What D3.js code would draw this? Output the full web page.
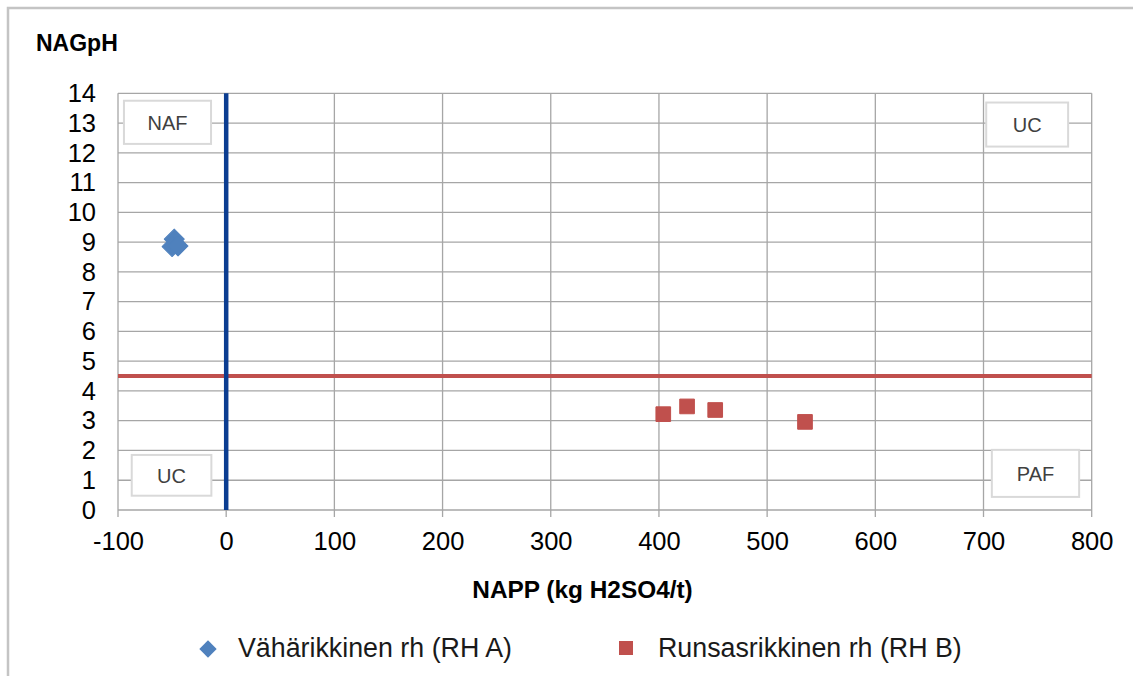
<!DOCTYPE html>
<html>
<head>
<meta charset="utf-8">
<script src="https://cdn.jsdelivr.net/npm/d3@7"></script>
<style>
  html, body { margin: 0; padding: 0; background: #fff; }
  svg { display: block; font-family: "Liberation Sans", Arial, sans-serif; }
</style>
</head>
<body>
<svg id="chart" width="1133" height="676"></svg>
<script>
// ---- data ----
const seriesNames = ["Vähärikkinen rh (RH A)", "Runsasrikkinen rh (RH B)"];
const rhA_x = [-48, -50, -44.5];
const rhA_y = [9.1, 8.85, 8.87];
const rhB_x = [404, 426, 452, 535];
const rhB_y = [3.22, 3.48, 3.36, 2.96];
const xTicks = [-100, 0, 100, 200, 300, 400, 500, 600, 700, 800];
const yTicks = [0, 1, 2, 3, 4, 5, 6, 7, 8, 9, 10, 11, 12, 13, 14];
const napThreshold = 0;     // vertical line at NAPP = 0
const phThreshold = 4.5;    // horizontal line at NAGpH = 4.5
const zoneLabels = ["NAF", "UC", "UC", "PAF"];
const zoneX0 = [-94.5, 702.5, -87.3, 707.7];
const zoneX1 = [-14, 778.2, -13.7, 788.4];
const zoneY0 = [12.3, 12.21, 0.48, 0.44];
const zoneY1 = [13.75, 13.69, 1.85, 2.02];

// ---- layout ----
const svg = d3.select("#chart");
const L = 118, R = 1091.7, T = 93.3, B = 510;
const x = d3.scaleLinear().domain([-100, 800]).range([L, R]);
const y = d3.scaleLinear().domain([0, 14]).range([B, T]);

const colA = "#4f81bd", colB = "#c0504d", blue = "#0b3d91", grid = "#a6a6a6";

// outer border
svg.append("rect").attr("x", 8).attr("y", 8).attr("width", 1140).attr("height", 700)
  .attr("fill", "none").attr("stroke", "#c4c4c4").attr("stroke-width", 2.5);

// gridlines
svg.append("g").selectAll("line").data(yTicks).join("line")
  .attr("x1", L).attr("x2", R).attr("y1", d => y(d)).attr("y2", d => y(d))
  .attr("stroke", grid).attr("stroke-width", 1.3);
svg.append("g").selectAll("line").data(xTicks).join("line")
  .attr("x1", d => x(d)).attr("x2", d => x(d)).attr("y1", T).attr("y2", B + 7)
  .attr("stroke", grid).attr("stroke-width", 1.3);

// axes labels (via d3 axes, domain hidden)
const xAxis = svg.append("g").attr("transform", `translate(0,${B})`)
  .call(d3.axisBottom(x).tickValues(xTicks).tickFormat(d => String(d)).tickSize(0).tickPadding(22));
xAxis.select(".domain").remove();
xAxis.selectAll("text").attr("font-size", 25.5).attr("fill", "#000")
  .attr("font-family", "Liberation Sans, Arial, sans-serif");

const yAxis = svg.append("g").attr("transform", `translate(${L},0)`)
  .call(d3.axisLeft(y).tickValues(yTicks).tickFormat(d => String(d)).tickSize(0).tickPadding(22));
yAxis.select(".domain").remove();
yAxis.selectAll("text").attr("font-size", 25.5).attr("fill", "#000")
  .attr("font-family", "Liberation Sans, Arial, sans-serif");

// zone label boxes
const zones = zoneLabels.map((t, i) => ({t, x0: zoneX0[i], x1: zoneX1[i], y0: zoneY0[i], y1: zoneY1[i]}));
const zg = svg.append("g").selectAll("g").data(zones).join("g");
zg.append("rect")
  .attr("x", d => x(d.x0)).attr("y", d => y(d.y1))
  .attr("width", d => x(d.x1) - x(d.x0)).attr("height", d => y(d.y0) - y(d.y1))
  .attr("fill", "#fff").attr("stroke", "#d9d9d9").attr("stroke-width", 2);
zg.append("text")
  .attr("x", d => (x(d.x0) + x(d.x1)) / 2).attr("y", d => (y(d.y0) + y(d.y1)) / 2)
  .attr("dy", "0.36em").attr("text-anchor", "middle")
  .attr("font-size", 20).attr("fill", "#404040").text(d => d.t);

// threshold lines
svg.append("line").attr("x1", L).attr("x2", R)
  .attr("y1", y(phThreshold)).attr("y2", y(phThreshold))
  .attr("stroke", colB).attr("stroke-width", 4);
svg.append("line").attr("x1", x(napThreshold)).attr("x2", x(napThreshold))
  .attr("y1", T).attr("y2", B)
  .attr("stroke", blue).attr("stroke-width", 4.5);

// points
const diamond = d3.symbol().type(d3.symbolSquare).size(200);
const square = d3.symbol().type(d3.symbolSquare).size(215);
svg.append("g").selectAll("path").data(rhA_x.map((v, i) => [v, rhA_y[i]])).join("path")
  .attr("d", diamond)
  .attr("transform", d => `translate(${x(d[0])},${y(d[1])}) rotate(45)`)
  .attr("fill", colA).attr("stroke", colA).attr("stroke-width", 1).attr("stroke-linejoin", "round");
svg.append("g").selectAll("path").data(rhB_x.map((v, i) => [v, rhB_y[i]])).join("path")
  .attr("d", square)
  .attr("transform", d => `translate(${x(d[0])},${y(d[1])})`)
  .attr("fill", colB).attr("stroke", colB).attr("stroke-width", 1).attr("stroke-linejoin", "round");

// titles
svg.append("text").attr("x", 36).attr("y", 51).attr("font-size", 23).attr("font-weight", "bold")
  .attr("fill", "#000").text("NAGpH");
svg.append("text").attr("x", 582.5).attr("y", 598).attr("text-anchor", "middle")
  .attr("font-size", 24.4).attr("font-weight", "bold").attr("fill", "#000")
  .text("NAPP (kg H2SO4/t)");

// legend
const lg = svg.append("g");
lg.append("path").attr("d", d3.symbol().type(d3.symbolSquare).size(150))
  .attr("transform", "translate(208,649) rotate(45)").attr("fill", colA);
lg.append("text").attr("x", 238).attr("y", 657).attr("font-size", 26.8).attr("fill", "#1a1a1a")
  .text(seriesNames[0]);
lg.append("path").attr("d", d3.symbol().type(d3.symbolSquare).size(196))
  .attr("transform", "translate(626,648)").attr("fill", colB);
lg.append("text").attr("x", 658).attr("y", 657).attr("font-size", 26.8).attr("fill", "#1a1a1a")
  .text(seriesNames[1]);
</script>
</body>
</html>
